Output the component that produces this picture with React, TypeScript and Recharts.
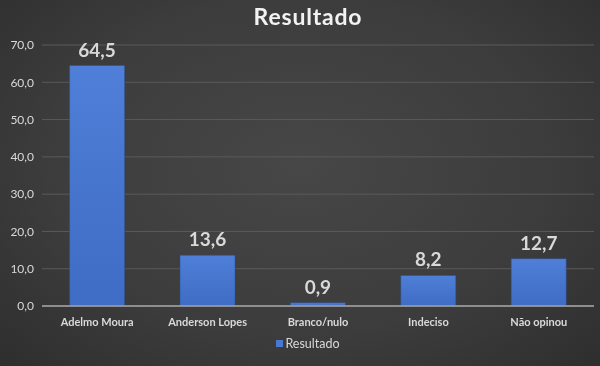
import { BarChart, Bar, XAxis, YAxis, CartesianGrid, LabelList, Legend } from 'recharts';

const categories = ['Adelmo Moura', 'Anderson Lopes', 'Branco/nulo', 'Indeciso', 'Não opinou'];
const resultado = [64.5, 13.6, 0.9, 8.2, 12.7];
const yTicks = [0, 10, 20, 30, 40, 50, 60, 70];

const data = categories.map((name, i) => ({ name, Resultado: resultado[i] }));

const fmt = (v: number) => v.toFixed(1).replace('.', ',');
const FONT = 'Lato, "Open Sans", sans-serif';

function LegendContent() {
  return (
    <div style={{ display: 'flex', justifyContent: 'center', alignItems: 'center', fontFamily: FONT, fontSize: 12.5, color: '#d9d9d9', paddingLeft: 22 }}>
      <span style={{ width: 7, height: 7, background: '#4a78d0', marginRight: 2, display: 'inline-block' }} />
      Resultado
    </div>
  );
}

export default function App() {
  return (
    <div
      style={{
        position: 'fixed',
        left: 0,
        top: 0,
        width: 600,
        height: 366,
        background: 'radial-gradient(ellipse at 50% 45%, #474747 0%, #3c3c3c 60%, #2e2e2e 100%)',
        fontFamily: FONT,
      }}
    >
      <div style={{ position: 'absolute', top: 2, width: '100%', textAlign: 'center', color: '#f2f2f2', fontSize: 23, fontWeight: 700, letterSpacing: 0.8, paddingLeft: 8 }}>
        Resultado
      </div>
      <BarChart width={600} height={366} data={data} margin={{ top: 45, right: 6, bottom: 6, left: 0 }} barCategoryGap="25%">
        <defs>
          <linearGradient id="barFill" x1="0" y1="0" x2="0" y2="1">
            <stop offset="0%" stopColor="#4f7fd8" />
            <stop offset="100%" stopColor="#3f6cc4" />
          </linearGradient>
        </defs>
        <CartesianGrid vertical={false} stroke="#5a5a5a" />
        <XAxis
          dataKey="name"
          interval={0}
          tickLine={false}
          axisLine={{ stroke: '#a6a6a6', strokeWidth: 1.5 }}
          tick={{ fill: '#d9d9d9', fontSize: 11, fontWeight: 700, fontFamily: FONT }}
          tickMargin={6}
        />
        <YAxis
          domain={[0, 70]}
          ticks={yTicks}
          width={42}
          tickLine={false}
          axisLine={false}
          tickFormatter={fmt}
          tick={{ fill: '#d9d9d9', fontSize: 12, fontFamily: FONT }}
        />
        <Legend verticalAlign="bottom" height={24} content={<LegendContent />} />
        <Bar dataKey="Resultado" fill="url(#barFill)" stroke="#2f4f8a" strokeWidth={0.5} isAnimationActive={false}>
          <LabelList dataKey="Resultado" position="top" offset={9} formatter={(v: any) => fmt(Number(v))} style={{ fill: '#d9d9d9', fontSize: 19, fontWeight: 700, fontFamily: FONT }} />
        </Bar>
      </BarChart>
    </div>
  );
}
